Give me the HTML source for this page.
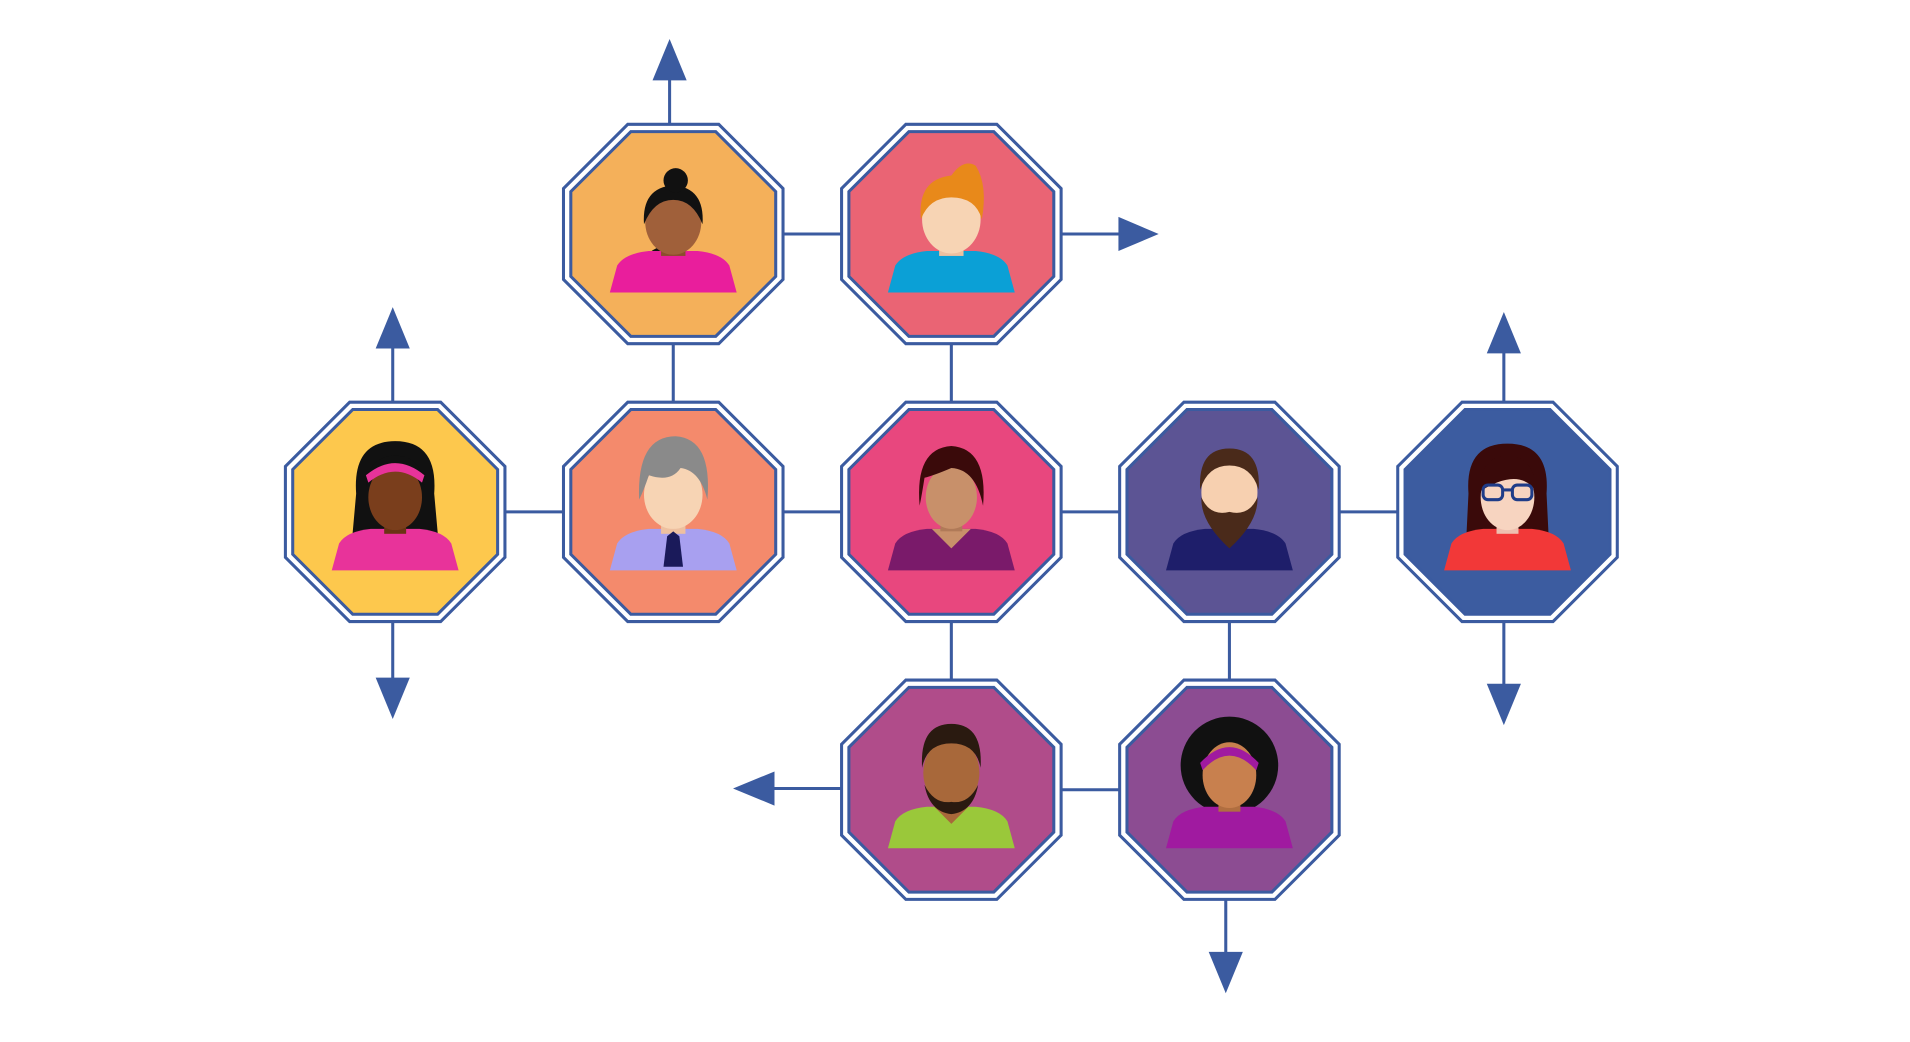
<!DOCTYPE html>
<html><head><meta charset="utf-8"><style>
html,body{margin:0;padding:0;background:#fff;overflow:hidden}
svg{display:block}
</style></head><body>
<svg width="1910" height="1042" viewBox="0 0 1566 855" preserveAspectRatio="none" xmlns="http://www.w3.org/2000/svg">
<defs>
<polygon id="o1" points="90,37.3 37.3,90 -37.3,90 -90,37.3 -90,-37.3 -37.3,-90 37.3,-90 90,-37.3"/>
<polygon id="o2" points="84,34.8 34.8,84 -34.8,84 -84,34.8 -84,-34.8 -34.8,-84 34.8,-84 84,-34.8"/>
<path id="body" d="M-52,48 L-46,26 Q-40,16 -20,14 L20,14 Q40,16 46,26 L52,48 Z"/>
</defs>
<rect width="1566" height="855" fill="#fff"/>
<g stroke="#3b5ba0" stroke-width="2.5" fill="none">
<line x1="552" y1="192" x2="780" y2="192"/>
<line x1="552" y1="192" x2="552" y2="420"/>
<line x1="780" y1="192" x2="780" y2="420"/>
<line x1="324" y1="420" x2="1236" y2="420"/>
<line x1="780" y1="420" x2="780" y2="648"/>
<line x1="1008" y1="420" x2="1008" y2="648"/>
<line x1="780" y1="648" x2="1008" y2="648"/>
<line x1="549" y1="110" x2="549" y2="60"/>
<line x1="870" y1="192" x2="920" y2="192"/>
<line x1="322" y1="335" x2="322" y2="280"/>
<line x1="322" y1="505" x2="322" y2="562"/>
<line x1="1233" y1="335" x2="1233" y2="285"/>
<line x1="1233" y1="505" x2="1233" y2="565"/>
<line x1="700" y1="647" x2="630" y2="647"/>
<line x1="1005" y1="735" x2="1005" y2="785"/>
</g>
<g fill="#3b5ba0">
<polygon points="549,32 535,66 563,66"/>
<polygon points="950,192 917,178 917,206"/>
<polygon points="322,252 308,286 336,286"/>
<polygon points="322,590 308,556 336,556"/>
<polygon points="1233,256 1219,290 1247,290"/>
<polygon points="1233,595 1219,561 1247,561"/>
<polygon points="601,647 635,633 635,661"/>
<polygon points="1005,815 991,781 1019,781"/>
</g>

<g transform="translate(552,192)">
<use href="#o1" fill="#fff" stroke="#3b5ba0" stroke-width="2.5"/>
<use href="#o2" fill="#f4b05a" stroke="#3b5ba0" stroke-width="2.5"/>
<path d="M-10,10 Q-35,20 -30,45 L-20,45 Q-25,25 -5,15 Z" fill="#111"/>
<use href="#body" fill="#e91e9c"/>
<rect x="-10" y="2" width="20" height="16" fill="#8a4e2c"/>
<ellipse cx="0" cy="-10" rx="23" ry="27" fill="#a0603a"/>
<path d="M-24,-8 Q-26,-38 0,-40 Q26,-38 24,-8 Q16,-28 0,-28 Q-16,-28 -24,-8Z" fill="#111"/>
<circle cx="2" cy="-44" r="10" fill="#111"/>
</g>
<g transform="translate(780,192)">
<use href="#o1" fill="#fff" stroke="#3b5ba0" stroke-width="2.5"/>
<use href="#o2" fill="#ea6474" stroke="#3b5ba0" stroke-width="2.5"/>
<use href="#body" fill="#0ba0d6"/>
<rect x="-10" y="2" width="20" height="16" fill="#eec0a0"/>
<ellipse cx="0" cy="-12" rx="24" ry="28" fill="#f7d4b4"/>
<path d="M-25,-12 Q-28,-45 0,-48 Q10,-62 20,-56 Q30,-40 25,-12 Q20,-30 0,-30 Q-18,-30 -25,-12Z" fill="#e8891a"/>
</g>
<g transform="translate(324,420)">
<use href="#o1" fill="#fff" stroke="#3b5ba0" stroke-width="2.5"/>
<use href="#o2" fill="#fdc84d" stroke="#3b5ba0" stroke-width="2.5"/>
<path d="M-32,-15 Q-35,-58 0,-58 Q35,-58 32,-15 L36,30 L-36,30 Z" fill="#111"/>
<use href="#body" fill="#e8339a"/>
<rect x="-9" y="2" width="18" height="16" fill="#6a3414"/>
<ellipse cx="0" cy="-12" rx="22" ry="27" fill="#7a3e1c"/>
<path d="M-24,-20 Q-22,-46 0,-46 Q22,-46 24,-20 Q18,-36 0,-36 Q-18,-36 -24,-20Z" fill="#111"/>
<path d="M-24,-30 Q0,-50 24,-30 L22,-24 Q0,-42 -22,-24Z" fill="#e8339a"/>
</g>
<g transform="translate(552,420)">
<use href="#o1" fill="#fff" stroke="#3b5ba0" stroke-width="2.5"/>
<use href="#o2" fill="#f48a6c" stroke="#3b5ba0" stroke-width="2.5"/>
<use href="#body" fill="#a8a0f0"/>
<rect x="-10" y="2" width="20" height="16" fill="#eec0a0"/>
<polygon points="0,16 -5,20 -8,45 8,45 5,20" fill="#1a1a5a"/>
<ellipse cx="0" cy="-14" rx="24" ry="28" fill="#f7d4b4"/>
<path d="M-28,-10 Q-30,-62 2,-62 Q32,-60 28,-10 Q22,-34 6,-36 Q-2,-24 -20,-30 Q-24,-18 -28,-10Z" fill="#8a8a8a"/>
</g>
<g transform="translate(780,420)">
<use href="#o1" fill="#fff" stroke="#3b5ba0" stroke-width="2.5"/>
<use href="#o2" fill="#e8477e" stroke="#3b5ba0" stroke-width="2.5"/>
<use href="#body" fill="#7a1a6a"/>
<path d="M-16,14 L0,30 L16,14Z" fill="#c8906a"/>
<rect x="-9" y="0" width="18" height="16" fill="#b07a58"/>
<ellipse cx="0" cy="-12" rx="21" ry="26" fill="#c8906a"/>
<path d="M-26,-5 Q-30,-52 0,-54 Q30,-52 26,-5 Q20,-35 0,-36 Q-14,-30 -22,-28 Q-24,-15 -26,-5Z" fill="#3a0a0a"/>
</g>
<g transform="translate(1008,420)">
<use href="#o1" fill="#fff" stroke="#3b5ba0" stroke-width="2.5"/>
<use href="#o2" fill="#5c5494" stroke="#3b5ba0" stroke-width="2.5"/>
<use href="#body" fill="#1e1e6a"/>
<rect x="-10" y="2" width="20" height="16" fill="#eec0a0"/>
<ellipse cx="0" cy="-16" rx="23" ry="27" fill="#f7d0b0"/>
<path d="M-23,-12 Q-24,8 0,30 Q24,8 23,-12 Q16,4 0,0 Q-16,4 -23,-12Z" fill="#4a2a1a"/>
<path d="M-24,-18 Q-26,-52 0,-52 Q26,-52 24,-18 Q18,-38 0,-38 Q-18,-38 -24,-18Z" fill="#4a2a1a"/>
</g>
<g transform="translate(1236,420)">
<use href="#o1" fill="#fff" stroke="#3b5ba0" stroke-width="2.5"/>
<use href="#o2" fill="#3c5ca0" stroke="#3b5ba0" stroke-width="2.5"/>
<path d="M-32,-15 Q-35,-56 0,-56 Q35,-56 32,-15 L34,26 L-34,26 Z" fill="#3a0a0a"/>
<use href="#body" fill="#f23838"/>
<rect x="-9" y="2" width="18" height="16" fill="#eec0b0"/>
<ellipse cx="0" cy="-12" rx="22" ry="27" fill="#f7d4c0"/>
<path d="M-24,-16 Q-22,-46 0,-46 Q22,-46 24,-16 Q10,-38 -24,-16Z" fill="#3a0a0a"/>
<g fill="none" stroke="#1f3c88" stroke-width="2.5"><rect x="-20" y="-22" width="16" height="12" rx="4"/><rect x="4" y="-22" width="16" height="12" rx="4"/><line x1="-4" y1="-18" x2="4" y2="-18"/></g>
</g>
<g transform="translate(780,648)">
<use href="#o1" fill="#fff" stroke="#3b5ba0" stroke-width="2.5"/>
<use href="#o2" fill="#b04c8a" stroke="#3b5ba0" stroke-width="2.5"/>
<use href="#body" fill="#9ac83a"/>
<path d="M-14,14 L0,28 L14,14Z" fill="#a8683a"/>
<rect x="-10" y="0" width="20" height="16" fill="#8e5630"/>
<ellipse cx="0" cy="-14" rx="23" ry="28" fill="#a8683a"/>
<path d="M-22,-4 Q-18,18 0,20 Q18,18 22,-4 Q14,12 0,10 Q-14,12 -22,-4Z" fill="#2a1a10"/>
<path d="M-24,-18 Q-26,-54 0,-54 Q26,-54 24,-18 Q20,-38 0,-38 Q-20,-38 -24,-18Z" fill="#2a1a10"/>
</g>
<g transform="translate(1008,648)">
<use href="#o1" fill="#fff" stroke="#3b5ba0" stroke-width="2.5"/>
<use href="#o2" fill="#8c4c92" stroke="#3b5ba0" stroke-width="2.5"/>
<circle cx="0" cy="-20" r="40" fill="#111"/>
<use href="#body" fill="#a01aa0"/>
<rect x="-9" y="2" width="18" height="16" fill="#b06e40"/>
<ellipse cx="0" cy="-12" rx="22" ry="27" fill="#c8804e"/>
<path d="M-24,-22 Q0,-48 24,-22 L22,-16 Q0,-40 -22,-16Z" fill="#a01aa0"/>
</g>
</svg>
</body></html>
